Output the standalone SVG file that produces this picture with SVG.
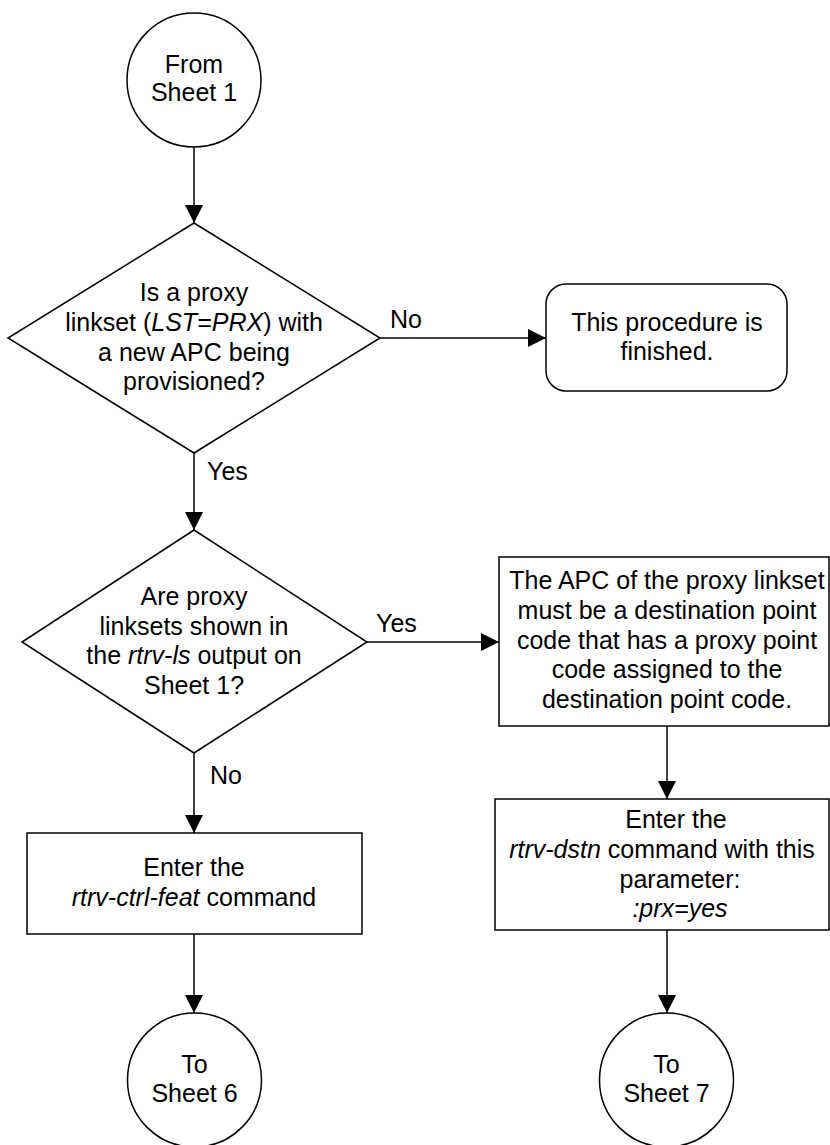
<svg xmlns="http://www.w3.org/2000/svg" width="830" height="1145" viewBox="0 0 830 1145">
<style>
.s{fill:#fff;stroke:#000;stroke-width:1.5}
.c{fill:none;stroke:#000;stroke-width:1.5}
text{font-family:"Liberation Sans",Arial,sans-serif;font-size:25px;fill:#000}
.m{text-anchor:middle}
.i{font-style:italic}
</style>
<defs>
<marker id="a" markerUnits="userSpaceOnUse" markerWidth="18" markerHeight="18" refX="18" refY="9" orient="auto">
<path d="M0,0 L18,9 L0,18 z" fill="#000"/>
</marker>
</defs>
<rect width="830" height="1145" fill="#fff"/>
<g id="connectors">
<line class="c" x1="194" y1="147" x2="194" y2="223" marker-end="url(#a)"/>
<line class="c" x1="380" y1="338" x2="546" y2="338" marker-end="url(#a)"/>
<line class="c" x1="194" y1="453" x2="194" y2="530" marker-end="url(#a)"/>
<line class="c" x1="367" y1="642" x2="499" y2="642" marker-end="url(#a)"/>
<line class="c" x1="194" y1="753" x2="194" y2="833" marker-end="url(#a)"/>
<line class="c" x1="194" y1="934" x2="194" y2="1013" marker-end="url(#a)"/>
<line class="c" x1="667" y1="726" x2="667" y2="799" marker-end="url(#a)"/>
<line class="c" x1="667" y1="930" x2="667" y2="1013" marker-end="url(#a)"/>
<text x="390" y="328">No</text>
<text x="207" y="480">Yes</text>
<text x="376" y="632">Yes</text>
<text x="210" y="784">No</text>
</g>
<g id="start">
<circle class="s" cx="194" cy="80" r="67"/>
<text class="m" x="194" y="73">From</text>
<text class="m" x="194" y="101">Sheet 1</text>
</g>
<g id="decision1">
<polygon class="s" points="194,223 380,338 194,453 8,338"/>
<text class="m" x="194" y="301">Is a proxy</text>
<text class="m" x="194" y="331">linkset (<tspan class="i">LST=PRX</tspan>) with</text>
<text class="m" x="194" y="360.5">a new APC being</text>
<text class="m" x="194" y="390">provisioned?</text>
</g>
<g id="finished">
<rect class="s" x="546" y="284" width="241" height="107" rx="20" ry="20"/>
<text class="m" x="667" y="330.5">This procedure is</text>
<text class="m" x="667" y="360">finished.</text>
</g>
<g id="decision2">
<polygon class="s" points="194,530 367,642 194,753 22,642"/>
<text class="m" x="194" y="605">Are proxy</text>
<text class="m" x="194" y="634.5">linksets shown in</text>
<text class="m" x="194" y="664">the <tspan class="i">rtrv-ls</tspan> output on</text>
<text class="m" x="194" y="693.5">Sheet 1?</text>
</g>
<g id="apcnote">
<rect class="s" x="499" y="557" width="330" height="169"/>
<text class="m" x="667" y="589">The APC of the proxy linkset</text>
<text class="m" x="667" y="619">must be a destination point</text>
<text class="m" x="667" y="648.5">code that has a proxy point</text>
<text class="m" x="667" y="678">code assigned to the</text>
<text class="m" x="667" y="708">destination point code.</text>
</g>
<g id="ctrlfeat">
<rect class="s" x="27" y="833" width="335" height="101"/>
<text class="m" x="194" y="876">Enter the</text>
<text class="m" x="194" y="905.5"><tspan class="i">rtrv-ctrl-feat</tspan> command</text>
</g>
<g id="dstn">
<rect class="s" x="495" y="799" width="334" height="131"/>
<text class="m" x="676" y="828">Enter the</text>
<text class="m" x="662" y="858"><tspan class="i">rtrv-dstn</tspan> command with this</text>
<text class="m" x="680" y="887.5">parameter:</text>
<text class="m i" x="680" y="917">:prx=yes</text>
</g>
<g id="sheet6">
<circle class="s" cx="194.5" cy="1080" r="67"/>
<text class="m" x="194.5" y="1073">To</text>
<text class="m" x="194.5" y="1102">Sheet 6</text>
</g>
<g id="sheet7">
<circle class="s" cx="666.5" cy="1080" r="67"/>
<text class="m" x="666.5" y="1073">To</text>
<text class="m" x="666.5" y="1102">Sheet 7</text>
</g>
</svg>
